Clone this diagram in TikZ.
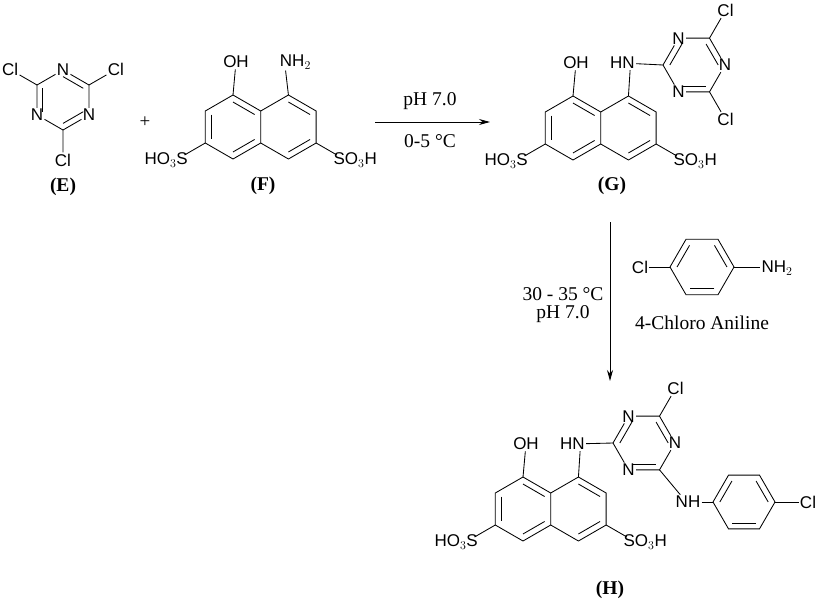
\documentclass[tikz,border=0pt]{standalone}
\usepackage{fontspec}
\setmainfont{Liberation Serif}
\setsansfont{Liberation Sans}
\usetikzlibrary{calc,arrows.meta}
\newcommand\hexat[5]{\foreach \k in {1,...,6}{\coordinate (#1\k) at ($(#2,#3)+({#5+60*(\k-1)}:#4)$);}\coordinate (#1c) at (#2,#3);}
\newcommand\dbl[3]{\draw[bond] ($(#3)!0.78!(#1)$) -- ($(#3)!0.78!(#2)$);}
\newcommand\hexdraw[1]{\draw[bond] (#11)--(#12)--(#13)--(#14)--(#15)--(#16)--cycle;}
% naphthalene: prefix, left centre x, y
\newcommand\naph[3]{%
 \hexat{#1L}{#2}{#3}{32}{270}\hexat{#1R}{#2+55.43}{#3}{32}{270}
 \hexdraw{#1L}\draw[bond] (#1R6)--(#1R1)--(#1R2)--(#1R3)--(#1R4)--(#1R5);
 \dbl{#1L6}{#1L5}{#1Lc}\dbl{#1L1}{#1L2}{#1Lc}\dbl{#1L4}{#1L3}{#1Lc}
 \dbl{#1R1}{#1R2}{#1Rc}\dbl{#1R4}{#1R3}{#1Rc}
 \coordinate (#1s1) at ($(#1L5)+(150:24)$);\coordinate (#1s2) at ($(#1R3)+(30:24)$);
 \draw[bond] (#1L5)--(#1s1) (#1R3)--(#1s2);
 \node[atom,anchor=east,inner sep=0.5pt] (#1hso) at ($(#1s1)+(4,5)$) {HO$_3$S};
 \node[atom,anchor=west,inner sep=0.5pt] (#1soh) at ($(#1s2)+(-4,5)$) {SO$_3$H};
 \node[atom] (#1oh) at ($(#1L1)+(3,-33)$) {OH};\draw[bond] (#1L1)--(#1oh);}
\tikzset{bond/.style={line width=0.85pt},
 atom/.style={font=\sffamily\fontsize{17}{17}\selectfont,inner sep=1.2pt},
 cond/.style={font=\fontsize{19.5}{21}\selectfont},
 lab/.style={font=\bfseries\fontsize{19.5}{21}\selectfont}}
\begin{document}
\begin{tikzpicture}[x=1pt,y=-1pt]
\useasboundingbox[fill=white] (0,0) rectangle (821,605);
% ---- E ----
\hexat{E}{63}{100}{30}{270}
\foreach \i in {1,3,5}{\node[atom] (EN\i) at (E\i) {N};}
\draw[bond] (EN1)--(E2)--(EN3)--(E4)--(EN5)--(E6)--(EN1);
\dbl{E1}{E2}{Ec}\dbl{E6}{E5}{Ec}\dbl{E4}{E3}{Ec}
\node[atom] (ECl1) at ($(E6)+(210:31)$) {Cl};
\node[atom] (ECl2) at ($(E2)+(330:31)$) {Cl};
\node[atom] (ECl3) at ($(E4)+(0,30)$) {Cl};
\draw[bond] (E6)--(ECl1) (E2)--(ECl2) (E4)--(ECl3);
\node[lab] (lE) at (63,187) {(E)};
\node[font=\fontsize{19}{19}\selectfont] (plus) at (145,122) {+};
% ---- F ----
\naph{F}{233}{127}
\node[atom] (Fnh) at ($(FR1)+(7,-33)$) {NH$_2$};\draw[bond] (FR1)--($(Fnh.south west)+(7,0)$);
\node[lab] (lF) at (263,186) {(F)};
% ---- arrow 1 ----
\coordinate (a1s) at (375,122);\coordinate (a1e) at (490,122);
\draw[line width=0.9pt,-{Stealth[length=11pt,width=6pt]}] (a1s)--(a1e);
\node[cond] (c1a) at (430,101) {pH 7.0};
\node[cond] (c1b) at (430,141) {0-5 °C};
% ---- G ----
\naph{G}{573}{128}
\hexat{GT}{694}{65}{31}{180}
\foreach \i in {2,4,6}{\node[atom] (GN\i) at (GT\i) {N};}
\draw[bond] (GT1)--(GN2)--(GT3)--(GN4)--(GT5)--(GN6)--(GT1);
\dbl{GT1}{GT2}{GTc}\dbl{GT3}{GT4}{GTc}\dbl{GT6}{GT5}{GTc}
\node[atom] (GCl1) at ($(GT3)+(300:32)$) {Cl};
\node[atom] (GCl2) at ($(GT5)+(60:32)$) {Cl};
\draw[bond] (GT3)--(GCl1) (GT5)--(GCl2);
\node[atom] (Ghn) at ($(GR1)+(-6,-33)$) {HN};
\draw[bond] (GR1)--($(Ghn.south east)+(-6,0)$) (Ghn)--(GT1);
\node[lab] (lG) at (612,186) {(G)};
% ---- arrow 2 ----
\coordinate (a2s) at (610,222);\coordinate (a2e) at (610,381);
\draw[line width=0.9pt,-{Stealth[length=11pt,width=6pt]}] (a2s)--(a2e);
\node[cond] (c2a) at (563,294) {30 - 35 °C};
\node[cond] (c2b) at (563,314) {pH 7.0};
\hexat{A}{702}{267}{32}{180}\hexdraw{A}
\dbl{A1}{A2}{Ac}\dbl{A3}{A4}{Ac}\dbl{A5}{A6}{Ac}
\node[atom] (ACl) at (640,267) {Cl};\node[atom] (Anh) at (777,268) {NH$_2$};
\draw[bond] (A1)--(ACl) (A4)--(Anh.west|-A4);
\node[cond] (c2c) at (702,323) {4-Chloro Aniline};
% ---- H ----
\naph{H}{523}{509}
\hexat{HT}{644}{443}{31}{180}
\foreach \i in {2,4,6}{\node[atom] (HN\i) at (HT\i) {N};}
\draw[bond] (HT1)--(HN2)--(HT3)--(HN4)--(HT5)--(HN6)--(HT1);
\dbl{HT1}{HT2}{HTc}\dbl{HT3}{HT4}{HTc}\dbl{HT6}{HT5}{HTc}
\node[atom] (HCl1) at ($(HT3)+(300:32)$) {Cl};
\draw[bond] (HT3)--(HCl1);
\node[atom] (Hhn) at ($(HR1)+(-6,-33)$) {HN};
\draw[bond] (HR1)--($(Hhn.south east)+(-6,0)$) (Hhn)--(HT1);
\node[atom] (Hnh) at (688,502) {NH};
\draw[bond] (HT5)--($(Hnh.north west)+(6,0)$);
\hexat{B}{744}{502}{31}{180}\hexdraw{B}
\dbl{B1}{B2}{Bc}\dbl{B3}{B4}{Bc}\dbl{B5}{B6}{Bc}
\draw[bond] (Hnh)--(B1);
\node[atom] (HCl2) at (808,502) {Cl};\draw[bond] (B4)--(HCl2);
\node[lab] (lH) at (610,590) {(H)};
\end{tikzpicture}
\end{document}
